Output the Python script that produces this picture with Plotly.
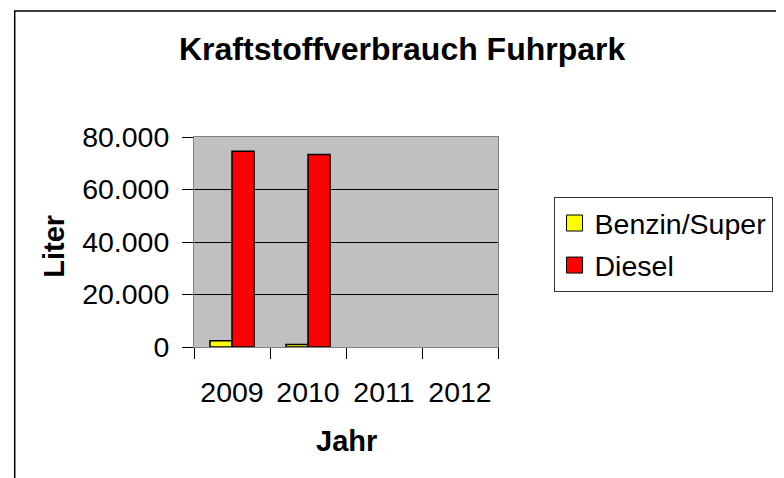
import plotly.graph_objects as go

years = ["2009", "2010", "2011", "2012"]
benzin = [2400, 1000, None, None]
diesel = [74600, 73300, None, None]
series_names = ["Benzin/Super", "Diesel"]
series_colors = ["#FFFF00", "#FF0000"]
y_ticks = [0, 20000, 40000, 60000, 80000]

FONT = "Liberation Sans, Arial, sans-serif"

# the page body has an 8px default margin; compensate
OFF = 8
W, H = 784 - OFF, 478 - OFF
L, R, T, B = 194 - OFF, 506 - OFF, 137 - OFF, 347 - OFF
pw, ph = R - L, B - T

def px(x):
    return (x - OFF - L) / pw

def py(y):
    return (B - (y - OFF)) / ph

fig = go.Figure()
for name, vals, col in zip(series_names, [benzin, diesel], series_colors):
    fig.add_trace(go.Bar(x=years, y=vals, name=name, showlegend=False,
                         marker=dict(color=col, line=dict(color="black", width=1.5))))
for i, (name, col) in enumerate(zip(series_names, series_colors)):
    fig.add_trace(go.Scatter(x=[None], y=[None], mode="markers", name=name,
                             legendgroup=f"g{i}",
                             marker=dict(symbol="square", size=16, color=col,
                                         line=dict(color="black", width=1))))

fig.update_layout(
    width=W, height=H,
    margin=dict(l=L, r=W - R, t=T, b=H - B, pad=0),
    paper_bgcolor="white",
    plot_bgcolor="#C0C0C0",
    separators=",.",
    barmode="group",
    bargap=0.42,
    bargroupgap=0,
    font=dict(family=FONT, color="black", size=28),
    showlegend=True,
    legend=dict(x=px(563), y=py(197), xanchor="left", yanchor="top",
                bordercolor="#333333", borderwidth=1, bgcolor="white",
                traceorder="grouped", tracegroupgap=2,
                font=dict(size=28.5, family=FONT)),
    xaxis=dict(
        type="category",
        tickson="boundaries",
        ticks="outside", ticklen=11, tickcolor="black",
        showline=True, linecolor="#808080", linewidth=1, mirror=True,
        showgrid=False,
        tickfont=dict(size=28.5, family=FONT),
        ticklabelstandoff=20,
    ),
    yaxis=dict(
        range=[0, 80000],
        tickvals=y_ticks,
        tickformat=",d",
        ticks="outside", ticklen=11, tickcolor="black",
        showline=True, linecolor="#808080", linewidth=1, mirror=True,
        showgrid=True, gridcolor="black", gridwidth=1,
        zeroline=False,
        tickfont=dict(size=28.5, family=FONT),
        ticklabelstandoff=7,
    ),
    annotations=[
        dict(text="<b>Kraftstoffverbrauch Fuhrpark</b>", xref="paper", yref="paper",
             x=px(408), y=py(49), xanchor="center", yanchor="middle",
             showarrow=False, font=dict(size=32, family=FONT)),
        dict(text="<b>Jahr</b>", xref="paper", yref="paper",
             x=px(350), y=py(441), xanchor="center", yanchor="middle",
             showarrow=False, font=dict(size=29, family=FONT)),
        dict(text="<b>Liter</b>", xref="paper", yref="paper",
             x=px(50), y=py(246), xanchor="center", yanchor="middle",
             textangle=-90, showarrow=False, font=dict(size=29, family=FONT)),
    ],
    shapes=[
        dict(type="rect", xref="paper", yref="paper",
             x0=px(10), x1=px(800), y0=py(11), y1=py(500),
             line=dict(color="black", width=1.5), fillcolor="rgba(0,0,0,0)",
             layer="below"),
    ],
)

fig.write_html("out.html")
